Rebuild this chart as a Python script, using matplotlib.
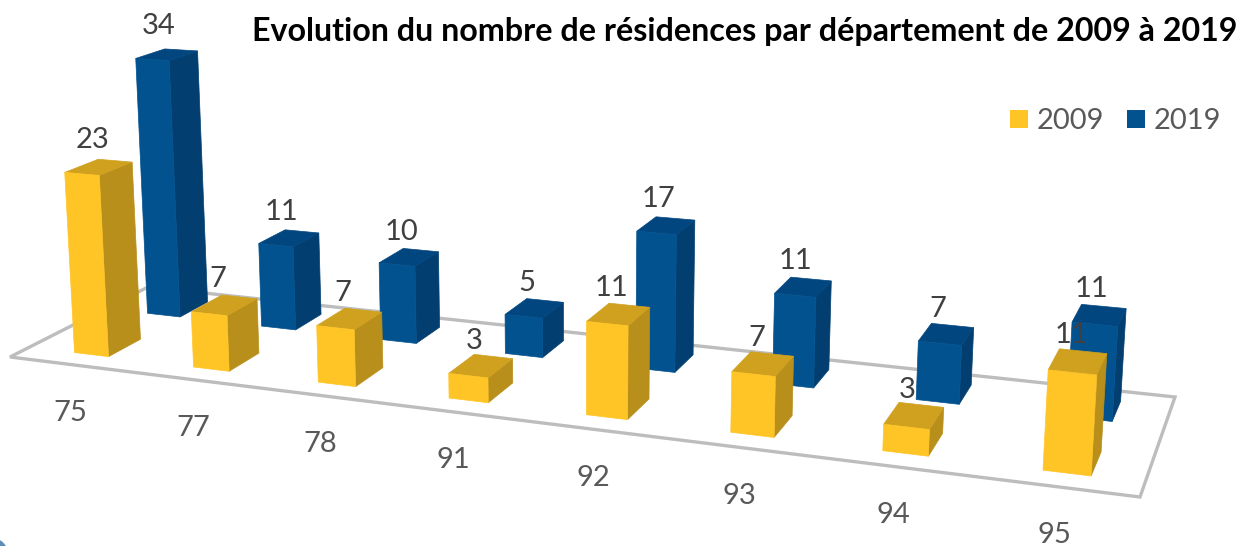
import numpy as np
import matplotlib
matplotlib.use("Agg")
import matplotlib.pyplot as plt
from matplotlib.patches import Polygon, Rectangle, Circle

departements = ["75", "77", "78", "91", "92", "93", "94", "95"]
val_2009 = [23, 7, 7, 3, 11, 7, 3, 11]
val_2019 = [34, 11, 10, 5, 17, 11, 7, 11]
annees = ["2009", "2019"]
titre = "Evolution du nombre de résidences par département de 2009 à 2019"

# colours: front, side, top
jaune = ("#FFC526", "#B98F1B", "#CFA11F")
bleu = ("#02528F", "#023F70", "#024680")

plt.rcParams["font.family"] = ["Lato", "DejaVu Sans"]

# floor corners in pixels: front left, front right, back right, back left
coins = [(10, 357), (1140, 497), (1175, 397), (148, 287)]
fuite = np.array([575.0, 9541.0, 1.0])   # vanishing point of the verticals
lam = -0.00084


def homographie(pts):
    src = [(0, 0), (1, 0), (1, 1), (0, 1)]
    A, b = [], []
    for (u, v), (x, y) in zip(src, pts):
        A.append([u, v, 1, 0, 0, 0, -u * x, -v * x])
        A.append([0, 0, 0, u, v, 1, -u * y, -v * y])
        b += [x, y]
    h = np.linalg.solve(np.array(A, float), np.array(b, float))
    return np.append(h, 1).reshape(3, 3)


H = homographie(coins)


def proj(u, v, z=0):
    """ category position u, depth v (0 front, 1 back), value z -> pixel """
    p = H @ np.array([u / 8, v, 1.0]) + z * lam * fuite
    return p[0] / p[2], p[1] / p[2]


def barre(ax, u0, u1, v0, v1, z, couleurs, zo):
    front = [proj(u0, v0), proj(u1, v0), proj(u1, v0, z), proj(u0, v0, z)]
    side = [proj(u1, v0), proj(u1, v1), proj(u1, v1, z), proj(u1, v0, z)]
    top = [proj(u0, v0, z), proj(u1, v0, z), proj(u1, v1, z), proj(u0, v1, z)]
    for pts, c in zip((side, top, front), (couleurs[1], couleurs[2], couleurs[0])):
        ax.add_patch(Polygon(pts, closed=True, fc=c, ec=c, lw=0.5, zorder=zo))


fig = plt.figure(figsize=(12.47, 5.46), dpi=100)
ax = fig.add_axes([0, 0, 1, 1])
ax.set_xlim(0, 1247)
ax.set_ylim(546, 0)
ax.axis("off")

ax.add_patch(Polygon([proj(0, 0), proj(8, 0), proj(8, 1), proj(0, 1)], closed=True,
                     fc="white", ec="#BDBDBD", lw=2.4, zorder=1))

larg = 0.29
for i in range(8):
    barre(ax, i + 0.38, i + 0.38 + larg, 0.67, 0.89, val_2019[i], bleu, 2 + i)
for i in range(8):
    barre(ax, i + 0.39, i + 0.39 + larg, 0.13, 0.36, val_2009[i], jaune, 12 + i)

for i in range(8):
    z = val_2009[i]
    x, y = proj(i + 0.39 + larg / 2, 0.25, z)
    ax.text(x - 7, y - 24.5 - 0.12 * z, str(z), fontsize=21, color="#404040",
            ha="center", va="center", zorder=30)
    z = val_2019[i]
    x, y = proj(i + 0.38 + larg / 2, 0.78, z)
    ax.text(x - 8, y - 24.5 - 0.12 * z, str(z), fontsize=21, color="#404040",
            ha="center", va="center", zorder=30)
    x, y = proj(i + 0.5, 0)
    ax.text(x + 2 + 1.8 * i - 0.3 * i ** 2, y + 49, departements[i], fontsize=21,
            color="#595959", ha="center", va="center", zorder=30)

ax.text(745, 31, titre, fontsize=23.2, fontweight="bold", color="black",
        ha="center", va="center")

# legend
for xc, xt, nom, c in zip((1010, 1127), (1037, 1154), annees, (jaune[0], bleu[0])):
    ax.add_patch(Rectangle((xc, 110), 18, 18, fc=c, ec="none"))
    ax.text(xt, 121, nom, fontsize=21, color="#595959", ha="left", va="center")

# corner of a decoration cut by the frame
ax.add_patch(Circle((-8, 554), 16, fc="#5D8DB8", ec="none"))

fig.savefig("out.png", dpi=100)
